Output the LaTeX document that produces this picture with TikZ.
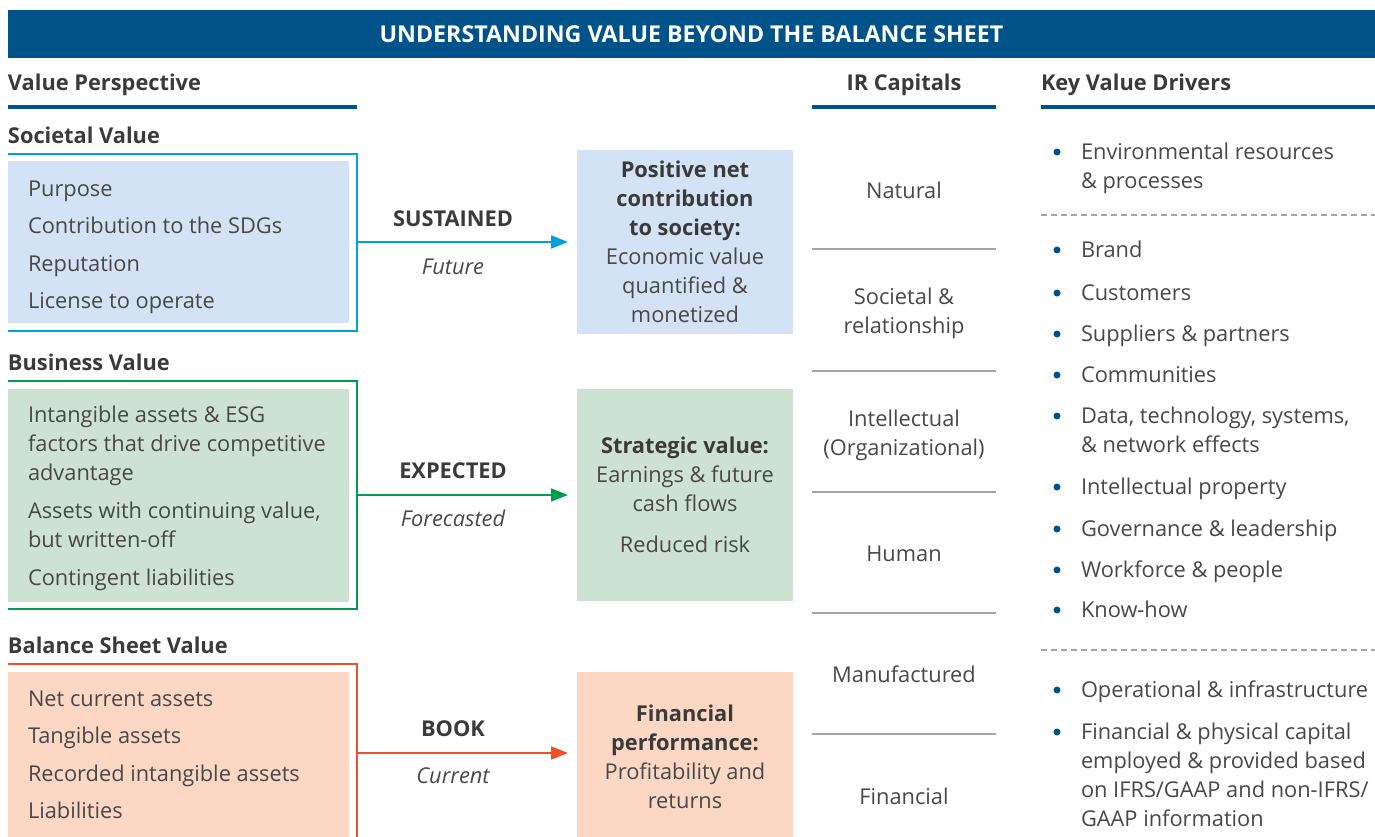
\documentclass[tikz,border=0pt]{standalone}
\usepackage{fontspec}
\setmainfont{Open Sans}
\usepackage{tikz}
\usetikzlibrary{arrows.meta}

\definecolor{ubsblue}{RGB}{0,83,136}
\definecolor{textdark}{RGB}{58,58,58}
\definecolor{textgray}{RGB}{72,72,72}
\definecolor{sepgray}{RGB}{165,165,165}
\definecolor{socline}{RGB}{0,160,220}
\definecolor{socfill}{RGB}{211,226,245}
\definecolor{busline}{RGB}{0,156,80}
\definecolor{busfill}{RGB}{206,226,211}
\definecolor{balline}{RGB}{240,80,40}
\definecolor{balfill}{RGB}{252,216,196}

\begin{document}
\begin{tikzpicture}[x=1pt,y=-1pt,
  every node/.style={inner sep=0pt, outer sep=0pt},
  txt/.style={font=\fontsize{21.8}{29}\selectfont, text=textgray},
  head/.style={font=\fontsize{21.8}{29}\selectfont\bfseries, text=textdark},
  rule/.style={draw=ubsblue, line width=4pt},
  sep/.style={draw=sepgray, line width=2pt},
  divdash/.style={draw=sepgray, line width=1.4pt, dash pattern=on 6pt off 4pt},
  flow/.style={line width=2pt, -{Triangle[length=17pt,width=13pt]}, shorten >=9pt}]

\useasboundingbox (0,0) rectangle (1375,836);

% banner
\node[fill=ubsblue, minimum width=1367pt, minimum height=48pt, text=white,
  font=\fontsize{23.2}{29}\selectfont\bfseries] (banner) at (691.5,34)
  {UNDERSTANDING VALUE BEYOND THE BALANCE SHEET};

% column heads
\node[head, anchor=base west] (vphead) at (8,90) {Value Perspective};
\node[head, anchor=base] (irhead) at (904,90) {IR Capitals};
\node[head, anchor=base west] (kvhead) at (1041,90) {Key Value Drivers};
\draw[rule] (8,107) -- (357,107);
\draw[rule] (812,107) -- (996,107);
\draw[rule] (1041,107) -- (1375,107);

% societal value
\node[head, anchor=base west] (sochead) at (8,143) {Societal Value};
\node[fill=socfill, minimum width=341pt, minimum height=162pt, anchor=north west] (socbox) at (8,161) {};
\draw[socline, line width=2pt] (8,154) -| (357,331) -- (8,331);
\node[txt, anchor=base west] (purpose) at (28,196) {Purpose};
\node[txt, anchor=base west] (sdgs) at (28,233) {Contribution to the SDGs};
\node[txt, anchor=base west] (reput) at (28,271) {Reputation};
\node[txt, anchor=base west] (license) at (28,308) {License to operate};

% business value
\node[head, anchor=base west] (bushead) at (8,370) {Business Value};
\node[fill=busfill, minimum width=341pt, minimum height=213pt, anchor=north west] (busbox) at (8,389) {};
\draw[busline, line width=2pt] (8,381) -| (357,609) -- (8,609);
\node[txt, anchor=base west, align=left] (intang) at (28,480)
  {Intangible assets \& ESG\\factors that drive competitive\\advantage};
\node[txt, anchor=base west, align=left] (writeoff) at (28,547)
  {Assets with continuing value,\\but written-off};
\node[txt, anchor=base west] (conting) at (28,585) {Contingent liabilities};

% balance sheet value
\node[head, anchor=base west] (balhead) at (8,653) {Balance Sheet Value};
\node[fill=balfill, minimum width=341pt, minimum height=170pt, anchor=north west] (balbox) at (8,672) {};
\draw[balline, line width=2pt] (8,664) -| (357,840);
\node[txt, anchor=base west] (netcur) at (28,706) {Net current assets};
\node[txt, anchor=base west] (tangible) at (28,743) {Tangible assets};
\node[txt, anchor=base west] (recorded) at (28,781) {Recorded intangible assets};
\node[txt, anchor=base west] (liab) at (28,818) {Liabilities};

% outcome boxes
\node[txt, fill=socfill, minimum width=216pt, minimum height=184pt, align=center] (posbox) at (685,242)
  {{\color{textdark}\bfseries Positive net}\\{\color{textdark}\bfseries contribution}\\{\color{textdark}\bfseries to society:}\\Economic value\\quantified \&\\monetized};
\node[txt, fill=busfill, minimum width=216pt, minimum height=212pt, align=center] (stratbox) at (685,495)
  {{\color{textdark}\bfseries Strategic value:}\\Earnings \& future\\cash flows\\[12pt]Reduced risk};
\node[txt, fill=balfill, minimum width=216pt, minimum height=170pt, align=center] (finbox) at (685,757)
  {{\color{textdark}\bfseries Financial}\\{\color{textdark}\bfseries performance:}\\Profitability and\\returns};

% arrows
\coordinate (socout) at (357,242);
\coordinate (busout) at (357,495);
\coordinate (balout) at (357,753);
\draw[flow, socline] (socout) -- (socout -| posbox.west);
\draw[flow, busline] (busout) -- (stratbox);
\draw[flow, balline] (balout) -- (balout -| finbox.west);

\node[head, anchor=base] (sustained) at (453,226) {SUSTAINED};
\node[txt, anchor=base, font=\fontsize{21.8}{29}\selectfont\itshape] (future) at (453,274) {Future};
\node[head, anchor=base] (expected) at (453,478) {EXPECTED};
\node[txt, anchor=base, font=\fontsize{21.8}{29}\selectfont\itshape] (forecast) at (453,526) {Forecasted};
\node[head, anchor=base] (book) at (453,736) {BOOK};
\node[txt, anchor=base, font=\fontsize{21.8}{29}\selectfont\itshape] (current) at (453,783) {Current};

% IR capitals
\node[txt, anchor=base] (natural) at (904,198) {Natural};
\node[txt, anchor=base, align=center] (societal) at (904,333) {Societal \&\\relationship};
\node[txt, anchor=base, align=center] (intell) at (904,455) {Intellectual\\(Organizational)};
\node[txt, anchor=base] (human) at (904,561) {Human};
\node[txt, anchor=base] (manuf) at (904,682) {Manufactured};
\node[txt, anchor=base] (financial) at (904,804) {Financial};
\draw[sep] (812,249) -- (996,249);
\draw[sep] (812,371) -- (996,371);
\draw[sep] (812,492) -- (996,492);
\draw[sep] (812,613) -- (996,613);
\draw[sep] (812,734) -- (996,734);

% key value drivers
\node[txt, anchor=base west, align=left] (envres) at (1081,188) {Environmental resources\\\& processes};
\draw[divdash] (1041,215) -- (1375,215);
\node[txt, anchor=base west] (brand) at (1081,257) {Brand};
\node[txt, anchor=base west] (customers) at (1081,300) {Customers};
\node[txt, anchor=base west] (suppliers) at (1081,341) {Suppliers \& partners};
\node[txt, anchor=base west] (communities) at (1081,382) {Communities};
\node[txt, anchor=base west, align=left] (datatech) at (1081,452) {Data, technology, systems,\\\& network effects};
\node[txt, anchor=base west] (ipprop) at (1081,494) {Intellectual property};
\node[txt, anchor=base west] (govern) at (1081,536) {Governance \& leadership};
\node[txt, anchor=base west] (workforce) at (1081,577) {Workforce \& people};
\node[txt, anchor=base west] (knowhow) at (1081,617) {Know-how};
\draw[divdash] (1041,650) -- (1375,650);
\node[txt, anchor=base west] (operational) at (1081,697) {Operational \& infrastructure};
\node[txt, anchor=base west, align=left] (fincap) at (1081,826)
  {Financial \& physical capital\\employed \& provided based\\on IFRS/GAAP and non-IFRS/\\GAAP information};

% bullets
\fill[ubsblue] (1057,152) circle (3.5);
\fill[ubsblue] (1057,250) circle (3.5);
\fill[ubsblue] (1057,293) circle (3.5);
\fill[ubsblue] (1057,334) circle (3.5);
\fill[ubsblue] (1057,375) circle (3.5);
\fill[ubsblue] (1057,416) circle (3.5);
\fill[ubsblue] (1057,487) circle (3.5);
\fill[ubsblue] (1057,529) circle (3.5);
\fill[ubsblue] (1057,570) circle (3.5);
\fill[ubsblue] (1057,610) circle (3.5);
\fill[ubsblue] (1057,690) circle (3.5);
\fill[ubsblue] (1057,732) circle (3.5);

\end{tikzpicture}
\end{document}
